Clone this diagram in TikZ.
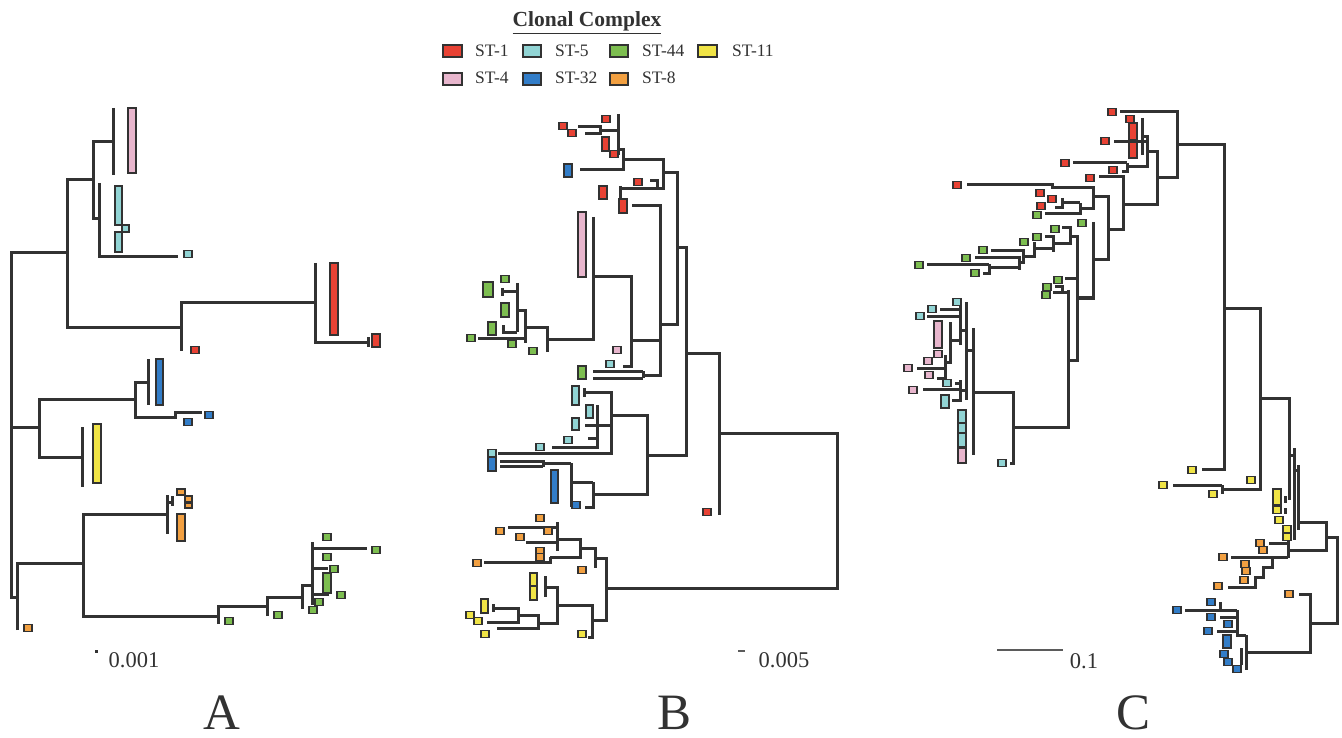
\documentclass[tikz,border=0pt]{standalone}
\usepackage{fontspec}
\setmainfont{Liberation Serif}
\usepackage{tikz}
\definecolor{treegray}{RGB}{50,50,50}
\definecolor{stone}{RGB}{232,66,52}
\definecolor{stfive}{RGB}{145,212,212}
\definecolor{stfortyfour}{RGB}{125,190,80}
\definecolor{steleven}{RGB}{240,228,70}
\definecolor{stfour}{RGB}{232,182,205}
\definecolor{stthirtytwo}{RGB}{50,125,200}
\definecolor{steight}{RGB}{242,160,65}
\tikzset{
  branch/.style={draw=treegray, line width=3pt, line join=miter},
  leafbox/.style={draw=treegray, line width=1.1pt},
  scalebar/.style={draw=treegray!80, line width=1.4pt},
  legtext/.style={font=\fontsize{17.5}{20}\selectfont, anchor=base west, inner sep=0pt, text=treegray},
  scaletext/.style={font=\fontsize{22.5}{24}\selectfont, anchor=base, inner sep=0pt, text=treegray},
  panellabel/.style={font=\fontsize{51}{53}\selectfont, anchor=base, inner sep=0pt, text=treegray}
}
% leaf square centred at (x,y) and a bar from corner to corner
\newcommand{\tleaf}[3]{\draw[leafbox, fill=#1] (#2-4,#3-3.5) rectangle (#2+4,#3+3.5);}
\newcommand{\tbar}[5]{\draw[leafbox, fill=#1] (#2,#3) rectangle (#4,#5);}

\begin{document}
\begin{tikzpicture}[x=1pt, y=-1pt]
  \useasboundingbox (0,0) rectangle (1342,738);

  % legend
  \node[font=\bfseries\fontsize{21.5}{24}\selectfont, anchor=base, inner sep=0pt, text=treegray]
    (cc) at (587,27) {\underline{Clonal Complex}};
  \tbar{stone}{443}{45}{462}{57}
  \tbar{stfive}{523}{45}{541}{57}
  \tbar{stfortyfour}{610}{45}{628}{57}
  \tbar{steleven}{698}{45}{717}{57}
  \tbar{stfour}{443}{73}{462}{85}
  \tbar{stthirtytwo}{523}{73}{541}{85}
  \tbar{steight}{610}{73}{628}{85}
  \node[legtext] (lg1) at (475,57) {ST-1};
  \node[legtext] (lg5) at (555,57) {ST-5};
  \node[legtext] (lg44) at (642,57) {ST-44};
  \node[legtext] (lg11) at (732,57) {ST-11};
  \node[legtext] (lg4) at (475,84) {ST-4};
  \node[legtext] (lg32) at (555,84) {ST-32};
  \node[legtext] (lg8) at (642,84) {ST-8};

  % tree A
  \draw[branch] (67,253) -- (11,253) -- (11,597) -- (17,597);
  \draw[branch] (11,427) -- (39,427);
  \draw[branch] (93,180) -| (67,327) -- (181,327);
  \draw[branch] (113,142) -| (93,219) -- (99,219);
  \draw[branch] (113,108) -- (113,175);
  \draw[branch] (99,183) |- (178,257);
  \draw[branch] (315,302) -| (181,351);
  \draw[branch] (315,263) |- (368,342);
  \draw[branch] (368,337) -- (368,347);
  \draw[branch] (135,399) -| (39,457) -- (82,457);
  \draw[branch] (148,382) -| (135,417) -- (175,417);
  \draw[branch] (148,359) -- (148,405);
  \draw[branch] (175,419) -- (175,412) -- (202,412);
  \draw[branch] (82,427) -- (82,487);
  \draw[branch] (17,630) -- (17,563) -- (83,563);
  \draw[branch] (167,514) -| (83,616) -- (218,616);
  \draw[branch] (167,495) -- (167,534);
  \draw[branch] (167,502) -- (172,502);
  \draw[branch] (172,496) -- (172,506);
  \draw[branch] (218,624) -- (218,606) -- (267,606);
  \draw[branch] (267,616) -- (267,597) -- (302,597);
  \draw[branch] (302,609) -- (302,585) -- (312,585);
  \draw[branch] (312,542) -- (312,605);
  \draw[branch] (312,548) -- (367,548);
  \draw[branch] (312,568) -- (328,568);
  \draw[branch] (312,594) -- (329,594);

  \tbar{stfour}{128}{108}{136}{173}
  \tbar{stfive}{115}{186}{122}{225}
  \tbar{stfive}{122}{225}{129}{232}
  \tbar{stfive}{115}{232}{122}{252}
  \tleaf{stfive}{188}{254}
  \tbar{stone}{330}{263}{338}{335}
  \tbar{stone}{372}{334}{380}{347}
  \tleaf{stone}{195}{350}
  \tbar{stthirtytwo}{156}{359}{163}{405}
  \tleaf{stthirtytwo}{209}{415}
  \tleaf{stthirtytwo}{188}{422}
  \tbar{steleven}{93}{424}{101}{483}
  \tbar{steight}{177}{489}{185}{495}
  \tbar{steight}{185}{496}{192}{502}
  \tbar{steight}{185}{503}{192}{508}
  \tbar{steight}{177}{514}{185}{541}
  \tleaf{steight}{28}{628}
  \foreach \x/\y in {229/621, 278/615, 376/550, 327/537, 327/557, 334/569, 341/595, 319/602, 313/610}
    {\tleaf{stfortyfour}{\x}{\y}}
  \tbar{stfortyfour}{323}{573}{331}{593}

  % tree B
  \draw[branch] (606,588) -- (837,588) -- (837,433) -- (719,433);
  \draw[branch] (686,353) -| (719,515);
  \draw[branch] (677,248) -- (686,248) -- (686,455) -- (647,455);
  \draw[branch] (663,173) -- (677,173) -- (677,324) -- (660,324);
  \draw[branch] (623,160) -| (663,189) -- (620,189);
  \draw[branch] (620,186) -- (620,198);
  \draw[branch] (650,181) -| (657,189);
  \draw[branch] (618,150) -- (623,150) -- (623,170) -- (580,170);
  \draw[branch] (618,114) -- (618,155);
  \draw[branch] (600,131) -- (618,131);
  \draw[branch] (578,127) -| (600,134) -- (585,134);
  \draw[branch] (632,206) -| (660,375) -- (643,375);
  \draw[branch] (631,340) -- (660,340);
  \draw[branch] (593,277) -| (631,366) -- (623,366);
  \draw[branch] (643,371) -- (643,378);
  \draw[branch] (593,371) -- (643,371);
  \draw[branch] (593,378) -- (643,378);
  \draw[branch] (593,217) -- (593,339) -- (548,339);
  \draw[branch] (547,352) -- (547,327) -- (525,327);
  \draw[branch] (518,310) -| (525,343);
  \draw[branch] (478,338) -- (525,338);
  \draw[branch] (517,283) -- (517,332);
  \draw[branch] (502,292) -- (517,292);
  \draw[branch] (502,288) -- (502,296);
  \draw[branch] (503,325) |- (517,332);
  \draw[branch] (611,415) -- (647,415) -- (647,494) -- (593,494);
  \draw[branch] (584,392) -| (611,453) -- (498,453);
  \draw[branch] (584,388) -- (584,397);
  \draw[branch] (585,425) -- (611,425);
  \draw[branch] (597,405) -- (597,447) -- (552,447);
  \draw[branch] (588,438) -- (597,438);
  \draw[branch] (593,482) -- (593,507) -- (585,507);
  \draw[branch] (571,482) -- (593,482);
  \draw[branch] (571,463) -- (571,507);
  \draw[branch] (545,463) -- (571,463);
  \draw[branch] (543,460) -- (543,467);
  \draw[branch] (500,461) -- (543,461);
  \draw[branch] (500,466) -- (543,466);
  \draw[branch] (595,558) -- (606,558) -- (606,620) -- (592,620);
  \draw[branch] (580,548) -| (595,568);
  \draw[branch] (557,539) -| (580,557) -- (550,557);
  \draw[branch] (557,522) -- (557,551);
  \draw[branch] (508,527) -- (557,527);
  \draw[branch] (526,542) -- (557,542);
  \draw[branch] (550,557) -- (550,562) -- (484,562);
  \draw[branch] (545,576) -- (545,597);
  \draw[branch] (545,587) -- (557,587) -- (557,623) -- (538,623);
  \draw[branch] (557,605) -- (592,605) -- (592,637) -- (588,637);
  \draw[branch] (518,615) -| (538,628) -- (497,628);
  \draw[branch] (493,608) -| (518,622) -- (487,622);
  \draw[branch] (493,604) -- (493,612);

  \foreach \x/\y in {606/119, 563/126, 572/133, 614/154, 638/182, 707/512}
    {\tleaf{stone}{\x}{\y}}
  \tbar{stone}{602}{137}{609}{151}
  \tbar{stone}{599}{186}{607}{199}
  \tbar{stone}{619}{199}{627}{213}
  \tbar{stthirtytwo}{564}{164}{572}{177}
  \tbar{stthirtytwo}{488}{457}{496}{471}
  \tbar{stthirtytwo}{551}{470}{558}{503}
  \tleaf{stthirtytwo}{576}{505}
  \tbar{stfour}{578}{212}{586}{277}
  \tleaf{stfour}{617}{350}
  \foreach \x/\y in {505/279, 471/338, 512/344, 533/351}
    {\tleaf{stfortyfour}{\x}{\y}}
  \tbar{stfortyfour}{483}{282}{493}{297}
  \tbar{stfortyfour}{501}{303}{509}{317}
  \tbar{stfortyfour}{488}{322}{496}{335}
  \tbar{stfortyfour}{578}{366}{586}{379}
  \foreach \x/\y in {610/364, 568/440, 540/447, 492/453}
    {\tleaf{stfive}{\x}{\y}}
  \tbar{stfive}{572}{386}{579}{405}
  \tbar{stfive}{586}{405}{593}{418}
  \tbar{stfive}{572}{418}{579}{430}
  \foreach \x/\y in {540/518, 500/531, 548/531, 520/537, 540/551, 540/557, 477/563, 582/570}
    {\tleaf{steight}{\x}{\y}}
  \tbar{steleven}{530}{573}{537}{586}
  \tbar{steleven}{530}{586}{537}{600}
  \tbar{steleven}{481}{599}{488}{613}
  \foreach \x/\y in {470/615, 478/621, 485/634, 582/634}
    {\tleaf{steleven}{\x}{\y}}

  % tree C
  \draw[branch] (1326,537) -- (1337,537) -- (1337,623) -- (1310,623);
  \draw[branch] (1298,522) -- (1326,522) -- (1326,550) -- (1288,550);
  \draw[branch] (1299,594) -| (1310,652) -- (1247,652);
  \draw[branch] (1260,398) -- (1289,398) -- (1289,500);
  \draw[branch] (1289,455) -- (1294,455);
  \draw[branch] (1294,448) -- (1294,540);
  \draw[branch] (1294,470) -- (1298,470);
  \draw[branch] (1298,465) -- (1298,530);
  \draw[branch] (1285,496) -- (1285,503);
  \draw[branch] (1285,508) -- (1285,514);
  \draw[branch] (1224,308) -- (1260,308) -- (1260,489) -- (1222,489);
  \draw[branch] (1222,485) -- (1222,494);
  \draw[branch] (1173,485) -- (1222,485);
  \draw[branch] (1177,145) -- (1224,145) -- (1224,469) -- (1202,469);
  \draw[branch] (1120,112) -| (1177,178) -- (1157,178);
  \draw[branch] (1147,152) -| (1157,205) -- (1123,205);
  \draw[branch] (1142,137) -| (1147,167) -- (1127,167);
  \draw[branch] (1142,118) -- (1142,155);
  \draw[branch] (1127,163) -- (1127,172) -- (1122,172);
  \draw[branch] (1073,163) -- (1127,163);
  \draw[branch] (1099,177) -| (1123,230) -- (1108,230);
  \draw[branch] (1093,197) -- (1108,197) -- (1108,260) -- (1093,260);
  \draw[branch] (967,185) -- (1052,185) -- (1052,188) -- (1093,188) -- (1093,209) -- (1080,209);
  \draw[branch] (1080,203) -- (1080,214) -- (1045,214);
  \draw[branch] (1062,203) -- (1080,203);
  \draw[branch] (1062,198) -- (1062,208) -- (1055,208);
  \draw[branch] (1093,222) -- (1093,298) -- (1077,298);
  \draw[branch] (1070,237) -- (1077,237) -- (1077,360) -- (1068,360);
  \draw[branch] (1062,228) -| (1070,245);
  \draw[branch] (1053,244) -- (1070,244);
  \draw[branch] (1053,235) -- (1053,252);
  \draw[branch] (1045,237) -- (1053,237);
  \draw[branch] (1034,249) -- (1053,249);
  \draw[branch] (1034,242) -- (1034,257) -- (1023,257);
  \draw[branch] (1023,249) -- (1023,263) -- (1019,263);
  \draw[branch] (991,251) -- (1023,251);
  \draw[branch] (1019,256) -- (1019,270);
  \draw[branch] (975,258) -- (1019,258);
  \draw[branch] (989,268) -- (1019,268);
  \draw[branch] (989,264) -- (989,274) -- (983,274);
  \draw[branch] (927,265) -- (989,265);
  \draw[branch] (1065,279) -- (1077,279);
  \draw[branch] (1068,290) -- (1068,427) -- (1013,427);
  \draw[branch] (1053,293) -- (1068,293);
  \draw[branch] (1055,287) -- (1062,287) -- (1062,293);
  \draw[branch] (973,392) -| (1013,463) -- (1010,463);
  \draw[branch] (973,328) -- (973,455);
  \draw[branch] (966,302) -- (966,400);
  \draw[branch] (966,350) -- (973,350);
  \draw[branch] (940,309) -- (960,309);
  \draw[branch] (927,316) -- (960,316);
  \draw[branch] (960,305) -- (960,345);
  \draw[branch] (960,330) -- (966,330);
  \draw[branch] (950,322) -- (950,352);
  \draw[branch] (950,340) -- (960,340);
  \draw[branch] (917,368) -- (945,368);
  \draw[branch] (945,355) -- (945,378) -- (937,378);
  \draw[branch] (945,362) -- (950,362) -- (950,352);
  \draw[branch] (923,389) -- (960,389);
  \draw[branch] (955,383) -- (960,383);
  \draw[branch] (960,380) -- (960,400) -- (952,400);
  \draw[branch] (960,390) -- (966,390);
  \draw[branch] (1246,635) -- (1246,670);
  \draw[branch] (1237,635) -- (1246,635);
  \draw[branch] (1237,610) -- (1237,637);
  \draw[branch] (1185,610) -- (1237,610);
  \draw[branch] (1220,602) -- (1220,610);
  \draw[branch] (1220,617) -- (1237,617);
  \draw[branch] (1217,631) -- (1237,631);
  \draw[branch] (1241,648) -- (1241,665);
  \draw[branch] (1288,540) -- (1288,558);
  \draw[branch] (1269,543) -- (1288,543);
  \draw[branch] (1231,557) -- (1288,557);
  \draw[branch] (1272,557) -- (1272,567) -- (1263,567) -- (1263,577) -- (1255,577) -- (1255,587) -- (1228,587);

  \foreach \x/\y in {1192/470, 1163/485, 1213/494, 1251/480, 1277/510, 1279/520, 1287/529, 1287/537}
    {\tleaf{steleven}{\x}{\y}}
  \tbar{steleven}{1273}{489}{1281}{505}
  \foreach \x/\y in {1112/112, 1130/119, 1105/141, 1065/163, 1113/170, 1090/178, 957/185, 1040/193, 1052/199, 1041/206}
    {\tleaf{stone}{\x}{\y}}
  \tbar{stone}{1129}{123}{1137}{140}
  \tbar{stone}{1129}{140}{1137}{158}
  \draw[branch] (1114,142) -- (1147,142);
  \foreach \x/\y in {1037/215, 1082/223, 1055/229, 1037/237, 1024/242, 983/250, 966/258, 919/265, 975/273, 1058/280, 1047/287, 1046/295}
    {\tleaf{stfortyfour}{\x}{\y}}
  \foreach \x/\y in {957/302, 932/309, 920/316, 947/383, 1002/463}
    {\tleaf{stfive}{\x}{\y}}
  \tbar{stfive}{941}{395}{949}{408}
  \tbar{stfive}{958}{410}{966}{423}
  \tbar{stfive}{958}{423}{966}{433}
  \tbar{stfive}{958}{433}{966}{447}
  \foreach \x/\y in {938/354, 928/361, 908/368, 929/375, 913/390}
    {\tleaf{stfour}{\x}{\y}}
  \tbar{stfour}{934}{321}{942}{348}
  \tbar{stfour}{958}{448}{966}{463}
  \foreach \x/\y in {1211/602, 1177/610, 1211/617, 1228/624, 1208/631, 1224/654, 1228/662, 1237/669}
    {\tleaf{stthirtytwo}{\x}{\y}}
  \tbar{stthirtytwo}{1223}{635}{1231}{648}
  \foreach \x/\y in {1289/594, 1260/543, 1263/550, 1223/557, 1245/564, 1246/571, 1244/580, 1218/586}
    {\tleaf{steight}{\x}{\y}}

  % scale bars and panel labels
  \fill[treegray] (95,650) rectangle (98,653);
  \draw[scalebar] (738,651) -- (745,651);
  \draw[scalebar] (997,650) -- (1063,650);
  \node[scaletext] (sa) at (134,667) {0.001};
  \node[scaletext] (sb) at (784,667) {0.005};
  \node[scaletext] (sc) at (1084,668) {0.1};
  \node[panellabel] (pa) at (222,729) {A};
  \node[panellabel] (pb) at (675,729) {B};
  \node[panellabel] (pc) at (1133,729) {C};
\end{tikzpicture}
\end{document}
